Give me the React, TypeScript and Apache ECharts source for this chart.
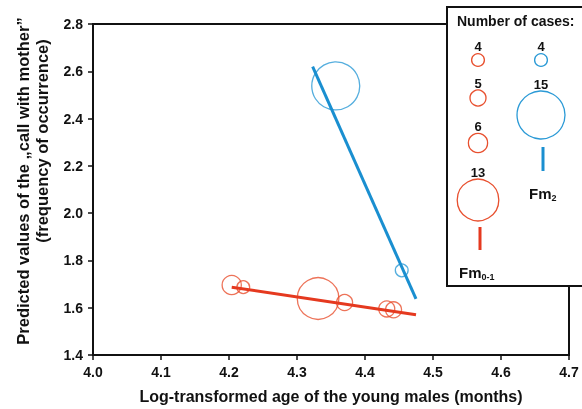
import React, { useEffect, useRef } from "react";
import * as echarts from "echarts";

const F01_X = [4.204, 4.221, 4.331, 4.37, 4.432, 4.442];
const F01_Y = [1.696, 1.687, 1.639, 1.622, 1.595, 1.591];
const F01_N = [6, 4, 13, 5, 5, 5];

const F2_X = [4.357, 4.454];
const F2_Y = [2.538, 1.758];
const F2_N = [15, 4];

const F01_LINE_X = [4.204, 4.475];
const F01_LINE_Y = [1.687, 1.57];
const F2_LINE_X = [4.323, 4.475];
const F2_LINE_Y = [2.62, 1.637];

const LEGEND_F01 = [4, 5, 6, 13];
const LEGEND_F2 = [4, 15];

const X_TICKS = [4.0, 4.1, 4.2, 4.3, 4.4, 4.5, 4.6, 4.7];
const Y_TICKS = [1.4, 1.6, 1.8, 2.0, 2.2, 2.4, 2.6, 2.8];

const RED = "#e5391f";
const RED_C = "#e8502f";
const BLUE = "#1a8fd0";
const BLUE_C = "#2b9ad6";
const FONT = "'Liberation Sans', Arial, sans-serif";

const rOf = (n: number) => n * 1.6;

export default function App() {
  const ref = useRef<HTMLDivElement>(null);
  useEffect(() => {
    if (!ref.current) return;
    const chart = echarts.init(ref.current, null, { renderer: "svg" });

    const legendRedY = [60, 98, 143, 200];
    const legendBlueY = [60, 115];
    const legendEls: any[] = [
      {
        type: "rect",
        z: 100,
        shape: { x: 447, y: 7, width: 170, height: 279 },
        style: { fill: "#fff", stroke: "#111", lineWidth: 2 },
      },
      {
        type: "text",
        z: 101,
        x: 457,
        y: 21,
        style: {
          text: "Number of cases:",
          font: `bold 14px ${FONT}`,
          fill: "#111",
          textVerticalAlign: "middle",
        },
      },
    ];
    LEGEND_F01.forEach((n, i) => {
      const cy = legendRedY[i];
      const r = rOf(n);
      legendEls.push({
        type: "circle",
        z: 101,
        shape: { cx: 478, cy, r },
        style: { fill: "none", stroke: RED_C, lineWidth: 1.3 },
      });
      legendEls.push({
        type: "text",
        z: 101,
        x: 478,
        y: cy - r - 7,
        style: {
          text: String(n),
          font: `bold 13px ${FONT}`,
          fill: "#111",
          textAlign: "center",
          textVerticalAlign: "middle",
        },
      });
    });
    LEGEND_F2.forEach((n, i) => {
      const cy = legendBlueY[i];
      const r = rOf(n);
      legendEls.push({
        type: "circle",
        z: 101,
        shape: { cx: 541, cy, r },
        style: { fill: "none", stroke: BLUE_C, lineWidth: 1.3 },
      });
      legendEls.push({
        type: "text",
        z: 101,
        x: 541,
        y: cy - r - 7,
        style: {
          text: String(n),
          font: `bold 13px ${FONT}`,
          fill: "#111",
          textAlign: "center",
          textVerticalAlign: "middle",
        },
      });
    });
    legendEls.push(
      {
        type: "line",
        z: 101,
        shape: { x1: 480, y1: 227, x2: 480, y2: 250 },
        style: { stroke: RED, lineWidth: 3 },
      },
      {
        type: "line",
        z: 101,
        shape: { x1: 543, y1: 147, x2: 543, y2: 171 },
        style: { stroke: BLUE, lineWidth: 3 },
      },
      {
        type: "text",
        z: 101,
        x: 459,
        y: 272,
        style: {
          text: "Fm{s|0-1}",
          font: `bold 15px ${FONT}`,
          fill: "#111",
          textVerticalAlign: "middle",
          rich: {
            s: { font: `bold 9px ${FONT}`, fill: "#111", padding: [10, 0, 0, 0] },
          },
        },
      },
      {
        type: "text",
        z: 101,
        x: 529,
        y: 193,
        style: {
          text: "Fm{s|2}",
          font: `bold 15px ${FONT}`,
          fill: "#111",
          textVerticalAlign: "middle",
          rich: {
            s: { font: `bold 9px ${FONT}`, fill: "#111", padding: [10, 0, 0, 0] },
          },
        },
      }
    );

    chart.setOption({
      animation: false,
      grid: {
        left: 93,
        right: 13,
        top: 24,
        bottom: 50,
        show: true,
        borderColor: "#111",
        borderWidth: 2,
        backgroundColor: "transparent",
      },
      xAxis: {
        type: "value",
        min: X_TICKS[0],
        max: X_TICKS[X_TICKS.length - 1],
        interval: 0.1,
        name: "Log-transformed age of the young males (months)",
        nameLocation: "middle",
        nameGap: 33,
        nameTextStyle: { fontFamily: FONT, fontWeight: "bold", fontSize: 16, color: "#111" },
        axisLine: { lineStyle: { color: "#111", width: 2 } },
        axisTick: { show: true, inside: false, length: 5, lineStyle: { color: "#111", width: 1.5 } },
        axisLabel: {
          fontFamily: FONT,
          fontWeight: "bold",
          fontSize: 14,
          color: "#111",
          margin: 10,
          formatter: (v: number) => v.toFixed(1),
        },
        splitLine: { show: false },
      },
      yAxis: {
        type: "value",
        min: Y_TICKS[0],
        max: Y_TICKS[Y_TICKS.length - 1],
        interval: 0.2,
        axisLine: { lineStyle: { color: "#111", width: 2 } },
        axisTick: { show: true, inside: false, length: 5, lineStyle: { color: "#111", width: 1.5 } },
        axisLabel: {
          fontFamily: FONT,
          fontWeight: "bold",
          fontSize: 14,
          color: "#111",
          margin: 10,
          formatter: (v: number) => v.toFixed(1),
        },
        splitLine: { show: false },
      },
      graphic: [
        {
          type: "text",
          x: 23,
          y: 181,
          rotation: Math.PI / 2,
          style: {
            text: "Predicted values of the \u201Ecall with mother\u201D",
            font: `bold 16.5px ${FONT}`,
            fill: "#111",
            textAlign: "center",
            textVerticalAlign: "middle",
          },
        },
        {
          type: "text",
          x: 42,
          y: 141,
          rotation: Math.PI / 2,
          style: {
            text: "(frequency of occurrence)",
            font: `bold 16.5px ${FONT}`,
            fill: "#111",
            textAlign: "center",
            textVerticalAlign: "middle",
          },
        },
        ...legendEls,
      ],
      series: [
        {
          type: "scatter",
          z: 2,
          symbol: "circle",
          data: F01_X.map((x, i) => [x, F01_Y[i], F01_N[i]]),
          symbolSize: (v: number[]) => rOf(v[2]) * 2,
          itemStyle: { color: "rgba(0,0,0,0)", borderColor: RED_C, borderWidth: 1.3 },
        },
        {
          type: "scatter",
          z: 2,
          symbol: "circle",
          data: F2_X.map((x, i) => [x, F2_Y[i], F2_N[i]]),
          symbolSize: (v: number[]) => rOf(v[2]) * 2,
          itemStyle: { color: "rgba(0,0,0,0)", borderColor: BLUE_C, borderWidth: 1.3 },
        },
        {
          type: "line",
          z: 3,
          symbol: "none",
          data: F01_LINE_X.map((x, i) => [x, F01_LINE_Y[i]]),
          lineStyle: { color: RED, width: 3 },
        },
        {
          type: "line",
          z: 3,
          symbol: "none",
          data: F2_LINE_X.map((x, i) => [x, F2_LINE_Y[i]]),
          lineStyle: { color: BLUE, width: 3 },
        },
      ],
    });
    return () => chart.dispose();
  }, []);
  return <div ref={ref} style={{ width: 582, height: 409, position: "fixed", left: 0, top: 0 }} />;
}
